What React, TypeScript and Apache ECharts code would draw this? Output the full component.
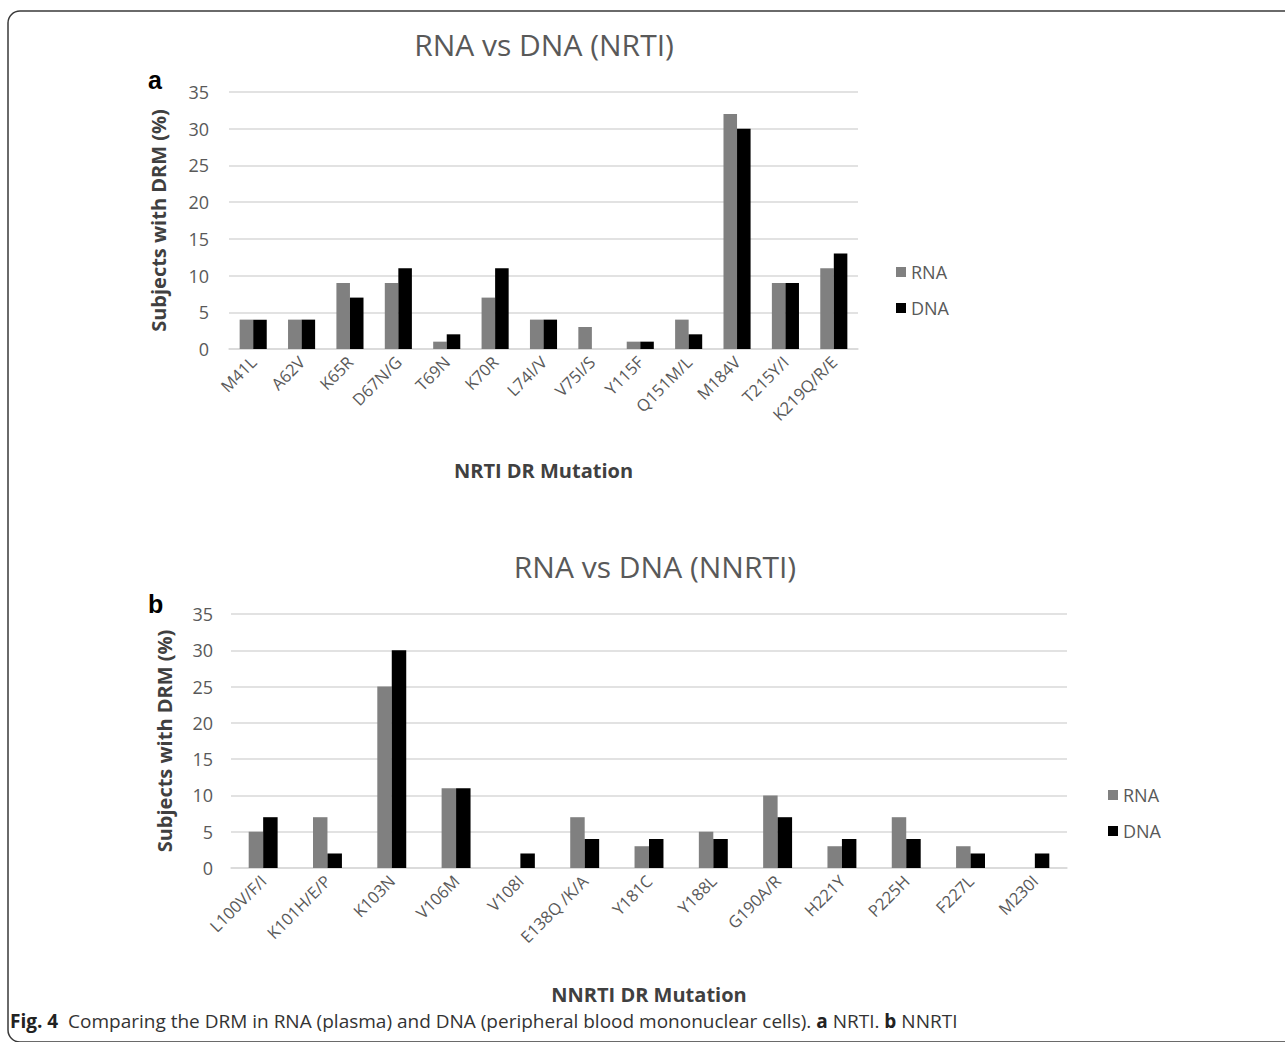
import React, { useEffect, useRef } from "react";
import * as echarts from "echarts";

const nrtiCategories = ["M41L", "A62V", "K65R", "D67N/G", "T69N", "K70R", "L74I/V", "V75I/S", "Y115F", "Q151M/L", "M184V", "T215Y/I", "K219Q/R/E"];
const nrtiRNA = [4, 4, 9, 9, 1, 7, 4, 3, 1, 4, 32, 9, 11];
const nrtiDNA = [4, 4, 7, 11, 2, 11, 4, 0, 1, 2, 30, 9, 13];

const nnrtiCategories = ["L100V/F/I", "K101H/E/P", "K103N", "V106M", "V108I", "E138Q /K/A", "Y181C", "Y188L", "G190A/R", "H221Y", "P225H", "F227L", "M230I"];
const nnrtiRNA = [5, 7, 25, 11, 0, 7, 3, 5, 10, 3, 7, 3, 0];
const nnrtiDNA = [7, 2, 30, 11, 2, 4, 4, 4, 7, 4, 4, 2, 2];

const yTicks = { min: 0, max: 35, interval: 5 };

const TXT = "#595959";
const DARK = "#404040";
const GRID = "#d9d9d9";
const FONT = "'Open Sans', 'Noto Sans', sans-serif";

export default function App() {
  const ref = useRef<HTMLDivElement>(null);
  useEffect(() => {
    if (!ref.current) return;
    const chart = echarts.init(ref.current, undefined, { renderer: "svg" });
    const xAxisCommon = (cats: string[], gridIndex: number, name: string, nameGap: number) => ({
      type: "category",
      gridIndex,
      data: cats,
      name,
      nameLocation: "middle",
      nameGap,
      nameTextStyle: { fontFamily: FONT, fontSize: 20, fontWeight: "bold", color: DARK },
      axisLine: { lineStyle: { color: GRID, width: 1.5 } },
      axisTick: { show: false },
      axisLabel: { rotate: 45, interval: 0, fontFamily: FONT, fontSize: 16.5, color: TXT, margin: 10 },
    });
    const yAxisCommon = (gridIndex: number, nameGap: number, margin: number) => ({
      type: "value",
      gridIndex,
      ...yTicks,
      name: "Subjects with DRM (%)",
      nameLocation: "middle",
      nameGap,
      nameTextStyle: { fontFamily: FONT, fontSize: 20, fontWeight: "bold", color: DARK },
      axisLine: { show: false },
      axisTick: { show: false },
      axisLabel: { fontFamily: FONT, fontSize: 18, color: TXT, margin },
      splitLine: { lineStyle: { color: GRID, width: 1.5 } },
    });
    const barSeries = (name: string, data: number[], idx: number, color: string, gap: string) => ({
      type: "bar",
      name,
      data,
      xAxisIndex: idx,
      yAxisIndex: idx,
      barGap: "0%",
      barCategoryGap: gap,
      itemStyle: { color },
    });
    const legendCommon = {
      orient: "vertical",
      itemWidth: 10,
      itemHeight: 10,
      itemGap: 18,
      icon: "rect",
      textStyle: { fontFamily: FONT, fontSize: 18, color: TXT },
      data: ["RNA", "DNA"],
    };
    chart.setOption({
      animation: false,
      backgroundColor: "#ffffff",
      grid: [
        { left: 229, top: 92, width: 629, height: 257 },
        { left: 231, top: 614, width: 836, height: 254 },
      ],
      xAxis: [
        xAxisCommon(nrtiCategories, 0, "NRTI DR Mutation", 111),
        xAxisCommon(nnrtiCategories, 1, "NNRTI DR Mutation", 116),
      ],
      yAxis: [yAxisCommon(0, 61, 20), yAxisCommon(1, 57, 18)],
      legend: [
        { ...legendCommon, left: 891, top: 258 },
        { ...legendCommon, left: 1103, top: 781 },
      ],
      series: [
        barSeries("RNA", nrtiRNA, 0, "#808080", "44%"),
        barSeries("DNA", nrtiDNA, 0, "#000000", "44%"),
        barSeries("RNA", nnrtiRNA, 1, "#808080", "55%"),
        barSeries("DNA", nnrtiDNA, 1, "#000000", "55%"),
      ],
      graphic: [
        {
          type: "rect",
          shape: { x: 8, y: 11, width: 1300, height: 1031, r: 12 },
          style: { fill: "none", stroke: "#3a3a3a", lineWidth: 1.5 },
          z: -1,
        },
        {
          type: "text",
          x: 544,
          y: 44,
          style: { text: "RNA vs DNA (NRTI)", font: `30px ${FONT}`, fill: TXT, textAlign: "center", textVerticalAlign: "middle" },
        },
        {
          type: "text",
          x: 655,
          y: 566,
          style: { text: "RNA vs DNA (NNRTI)", font: `30px ${FONT}`, fill: TXT, textAlign: "center", textVerticalAlign: "middle" },
        },
        {
          type: "text",
          x: 148,
          y: 80,
          style: { text: "a", font: "bold 25px 'Liberation Sans', Arial, sans-serif", fill: "#000", textVerticalAlign: "middle" },
        },
        {
          type: "text",
          x: 148,
          y: 604,
          style: { text: "b", font: "bold 25px 'Liberation Sans', Arial, sans-serif", fill: "#000", textVerticalAlign: "middle" },
        },
        {
          type: "text",
          x: 10,
          y: 1021,
          style: {
            text: "{b|Fig. 4}  Comparing the DRM in RNA (plasma) and DNA (peripheral blood mononuclear cells). {b|a} NRTI. {b|b} NNRTI",
            font: "19px 'Open Sans', sans-serif",
            fill: "#333",
            textVerticalAlign: "middle",
            rich: {
              b: { fontWeight: "bold", fontSize: 19, fontFamily: "'Open Sans', sans-serif", fill: "#222" },
            },
          },
        },
      ],
    });
    return () => chart.dispose();
  }, []);
  return <div ref={ref} style={{ position: "fixed", left: 0, top: 0, width: 1285, height: 1042, background: "#fff" }} />;
}
